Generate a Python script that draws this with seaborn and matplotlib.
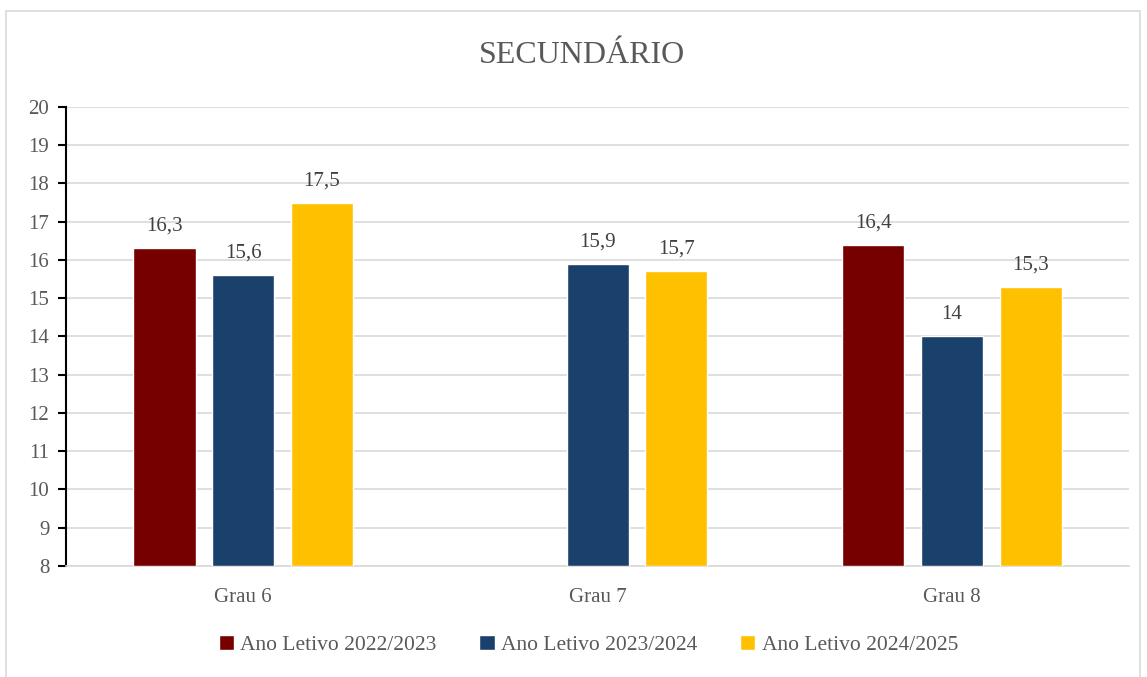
import numpy as np
import pandas as pd
import matplotlib.pyplot as plt
import seaborn as sns
from matplotlib.patches import Patch, Rectangle

# Data
grades = ['Grau 6', 'Grau 7', 'Grau 8']
years = ['Ano Letivo 2022/2023', 'Ano Letivo 2023/2024', 'Ano Letivo 2024/2025']
v_2022 = [16.3, np.nan, 16.4]
v_2023 = [15.6, 15.9, 14.0]
v_2024 = [17.5, 15.7, 15.3]
colors = ['#760000', '#1A406C', '#FFC000']

df = pd.DataFrame({
    'grau': grades * 3,
    'ano': [years[0]] * 3 + [years[1]] * 3 + [years[2]] * 3,
    'valor': v_2022 + v_2023 + v_2024,
})

sns.set_theme(style='white')
plt.rcParams['font.family'] = ['Liberation Serif', 'DejaVu Serif']
txt = '#595959'

fig = plt.figure(figsize=(11.47, 6.77), dpi=100)
fig.patches.append(Rectangle((0.005, -0.01), 0.989, 0.994, transform=fig.transFigure,
                             fill=False, edgecolor='#d9d9d9', linewidth=1.2))
ax = fig.add_axes([0.0575, 0.164, 0.927, 0.678])

sns.barplot(data=df, x='grau', y='valor', hue='ano', palette=colors,
            width=0.666, gap=0.21, ax=ax, legend=False, saturation=1, zorder=3)

# bars start at 8, so shift bottom
for patch in ax.patches:
    h = patch.get_height()
    if np.isfinite(h) and h > 0:
        patch.set_y(8)
        patch.set_height(h - 8)

for cont in ax.containers:
    labels = []
    for patch in cont:
        h = patch.get_height()
        if np.isfinite(h) and h > 0:
            v = h + 8
            labels.append(f'{v:g}'.replace('.', ','))
        else:
            labels.append('')
    ax.bar_label(cont, labels=labels, padding=9, fontsize=15, color='#404040')

ax.set_ylim(8, 20)
ax.set_xlim(-0.5, 2.5)
ax.set_yticks(range(8, 21))
ax.yaxis.grid(True, color='#d9d9d9', linewidth=1.2, zorder=0)
ax.set_axisbelow(True)
ax.set_xlabel('')
ax.set_ylabel('')
for s in ['top', 'right']:
    ax.spines[s].set_visible(False)
ax.spines['left'].set_color('black')
ax.spines['left'].set_linewidth(1.5)
ax.spines['bottom'].set_color('#d9d9d9')
ax.spines['bottom'].set_linewidth(1.2)
ax.tick_params(axis='y', left=True, length=6, width=1.5, color='black',
               labelsize=15, labelcolor=txt, pad=6)
ax.tick_params(axis='x', bottom=False, labelsize=15, labelcolor=txt, pad=10)

fig.text(0.507, 0.918, 'SECUNDÁRIO', ha='center', va='center', fontsize=23, color=txt)

handles = [Patch(facecolor=c, label=l) for c, l in zip(colors, years)]
fig.legend(handles=handles, loc='center', bbox_to_anchor=(0.513, 0.047), ncol=3,
           frameon=False, fontsize=15.5, labelcolor=txt, handlelength=0.7,
           handleheight=0.7, handletextpad=0.3, columnspacing=2.0)

fig.savefig('out.png', dpi=100)
